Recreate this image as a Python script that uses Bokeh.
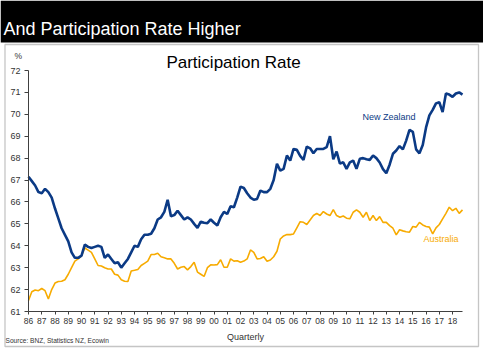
from bokeh.plotting import figure
from bokeh.models import Range1d, FixedTicker, Label, BoxAnnotation
from bokeh.embed import file_html
from bokeh.resources import INLINE

# ---------------- data ----------------
years = list(range(1986, 2019))
year_labels = ["86", "87", "88", "89", "90", "91", "92", "93", "94", "95", "96",
               "97", "98", "99", "00", "01", "02", "03", "04", "05", "06", "07",
               "08", "09", "10", "11", "12", "13", "14", "15", "16", "17", "18"]
y_ticks = [61, 62, 63, 64, 65, 66, 67, 68, 69, 70, 71, 72]

nz = [67.15, 66.95, 66.75, 66.45, 66.4, 66.6, 66.45, 66.2, 65.7, 65.25,
      64.8, 64.5, 64.2, 63.7, 63.45, 63.45, 63.55, 64.05, 63.95, 63.9,
      63.95, 64.0, 63.95, 63.45, 63.6, 63.4, 63.2, 63.25, 63.0, 63.2,
      63.4, 63.7, 64.0, 63.95, 64.3, 64.5, 64.5, 64.55, 64.8, 65.2,
      65.3, 65.55, 66.1, 65.35, 65.4, 65.6, 65.4, 65.2, 65.3, 65.2,
      65.0, 64.82, 65.1, 65.05, 65.03, 65.2, 65.05, 64.93, 65.3, 65.55,
      65.45, 65.8, 65.76, 66.2, 66.7, 66.64, 66.4, 66.2, 66.1, 66.14,
      66.52, 66.45, 66.45, 66.6, 67.0, 67.74, 67.43, 67.51, 68.12, 67.89,
      68.42, 68.38, 68.1, 67.92, 68.53, 68.45, 68.22, 68.42, 68.42, 68.42,
      68.5, 69.0, 67.95, 68.3, 67.75, 67.81, 67.51, 67.81, 67.89, 67.51,
      67.97, 68.0, 67.95, 67.92, 68.12, 68.0, 67.8, 67.5, 67.31, 67.7,
      68.2, 68.35, 68.55, 68.4, 68.8, 69.29, 69.2, 68.4, 68.22, 68.6,
      69.4, 69.95, 70.2, 70.5, 70.55, 70.1, 70.95, 70.9, 70.8, 70.95,
      71.0, 70.9]

aus = [61.5, 61.9, 61.98, 61.95, 62.05, 61.95, 61.57, 62.0, 62.3, 62.37,
       62.38, 62.45, 62.7, 63.0, 63.3, 63.4, 63.55, 63.9, 63.8, 63.7,
       63.4, 63.1, 63.08, 63.0, 62.94, 62.94, 62.7, 62.66, 62.45, 62.38,
       62.37, 62.85, 62.88, 62.92, 63.1, 63.2, 63.3, 63.6, 63.6, 63.66,
       63.5, 63.45, 63.4, 63.4, 63.2, 62.94, 63.02, 63.05, 62.9, 63.05,
       63.25, 62.8, 62.7, 62.6, 63.0, 63.13, 63.12, 63.14, 63.36, 63.02,
       63.02, 63.4, 63.3, 63.32, 63.25, 63.3, 63.4, 63.81, 63.7, 63.4,
       63.42, 63.5, 63.29, 63.35, 63.5, 63.75, 64.31, 64.45, 64.51, 64.51,
       64.54, 64.82, 65.1, 65.07, 64.97, 65.18, 65.38, 65.48, 65.38, 65.56,
       65.45, 65.38, 65.65, 65.38, 65.3, 65.36, 65.26, 65.23, 65.53, 65.64,
       65.53, 65.3, 65.53, 65.15, 65.38, 65.15, 65.33, 65.07, 65.07, 64.92,
       64.8, 64.5, 64.73, 64.68, 64.64, 64.62, 64.88, 64.85, 65.07, 64.95,
       64.88, 64.85, 64.54, 64.82, 64.97, 65.23, 65.48, 65.76, 65.6, 65.71,
       65.48, 65.64]

quarters = [1986 + 0.25 * i for i in range(len(nz))]

NZ_COLOR = "#0b3a85"
AUS_COLOR = "#f7ab00"
FONT = "Liberation Sans"
AX_COLOR = "#404040"
TXT_COLOR = "#333333"

# ---------------- layout geometry (canvas pixels) ----------------
W, H = 483, 350
FL, FR, FT, FB = 28, 462, 70, 311  # data-area edges

x0, x1 = quarters[0], quarters[-1]
y0, y1 = y_ticks[0], y_ticks[-1]
kx = (FR - FL) / (x1 - x0)
ky = (FB - FT) / (y1 - y0)
xr = Range1d(x0 - FL / kx, x1 + (W - FR) / kx)
yr = Range1d(y0 - (H - FB) / ky, y1 + FT / ky)


def dx(cx):
    return xr.start + cx / kx


def dy(cy):
    return yr.end - cy / ky


p = figure(width=W, height=H, output_backend="svg", toolbar_location=None,
           x_range=xr, y_range=yr,
           min_border_left=0, min_border_right=0,
           min_border_top=0, min_border_bottom=0)
p.title.visible = False
p.background_fill_color = "white"
p.border_fill_color = "white"
p.outline_line_color = None
p.xgrid.visible = False
p.ygrid.visible = False

p.line(quarters, aus, line_color=AUS_COLOR, line_width=1.6)
p.line(quarters, nz, line_color=NZ_COLOR, line_width=2.6)

# axes (fixed inside the canvas)
xa = p.xaxis[0]
xa.fixed_location = y0
xa.bounds = (x0, x1)
xa.ticker = FixedTicker(ticks=years)
xa.major_label_overrides = {y: l for y, l in zip(years, year_labels)}
xa.minor_tick_line_color = None
xa.major_tick_in = 0
xa.major_tick_out = 3
xa.major_label_standoff = 3
xa.axis_line_color = AX_COLOR
xa.major_tick_line_color = AX_COLOR
xa.major_label_text_font = FONT
xa.major_label_text_font_size = "8.5px"
xa.major_label_text_color = TXT_COLOR
xa.axis_label = "Quarterly"
xa.axis_label_text_font = FONT
xa.axis_label_text_font_size = "9px"
xa.axis_label_text_font_style = "normal"
xa.axis_label_text_color = TXT_COLOR
xa.axis_label_standoff = 5

ya = p.yaxis[0]
ya.fixed_location = x0
ya.bounds = (y0, y1)
ya.ticker = FixedTicker(ticks=y_ticks)
ya.minor_tick_line_color = None
ya.major_tick_in = 0
ya.major_tick_out = 4
ya.major_label_standoff = 4
ya.axis_line_color = AX_COLOR
ya.major_tick_line_color = AX_COLOR
ya.major_label_text_font = FONT
ya.major_label_text_font_size = "9px"
ya.major_label_text_color = TXT_COLOR

# header band and chart border
p.add_layout(BoxAnnotation(left=dx(0), right=dx(W), top=dy(0), bottom=dy(42),
                           fill_color="black", fill_alpha=1.0, line_color=None))
p.add_layout(BoxAnnotation(left=dx(4.5), right=dx(478), top=dy(44), bottom=dy(346),
                           fill_alpha=0, line_color=AX_COLOR, line_width=1.3))

p.add_layout(Label(x=dx(3), y=dy(28), text="And Participation Rate Higher",
                   text_color="white", text_font=FONT, text_font_size="18px",
                   text_baseline="alphabetic"))
p.add_layout(Label(x=dx(233), y=dy(62), text="Participation Rate",
                   text_color="black", text_align="center", text_font=FONT,
                   text_font_size="17px", text_baseline="alphabetic"))
p.add_layout(Label(x=dx(14), y=dy(55), text="%", text_color=TXT_COLOR,
                   text_baseline="middle", text_font=FONT, text_font_size="8.5px"))
p.add_layout(Label(x=dx(5), y=dy(339.5), text="Source: BNZ, Statistics NZ, Ecowin",
                   text_color=TXT_COLOR, text_baseline="middle", text_font=FONT,
                   text_font_size="6.6px"))

# series labels
p.add_layout(Label(x=2011.2, y=69.9, text="New Zealand", text_color=NZ_COLOR,
                   text_baseline="middle", text_font=FONT, text_font_size="9px"))
p.add_layout(Label(x=2015.8, y=64.33, text="Australia", text_color=AUS_COLOR,
                   text_baseline="middle", text_font=FONT, text_font_size="9px"))

open("out.html", "w").write(file_html(p, INLINE))
